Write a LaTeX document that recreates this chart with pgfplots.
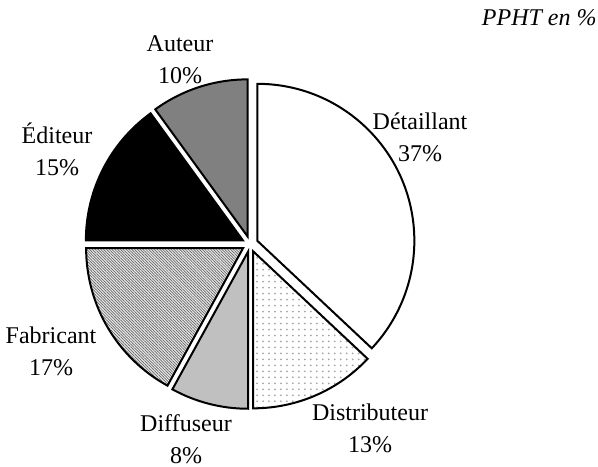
\documentclass[border=0pt]{standalone}
\usepackage{pgfplots}
\pgfplotsset{compat=1.18}
\usepackage{pgfplotstable}
\usepackage{fontspec}
\setmainfont{Liberation Serif}
\usetikzlibrary{patterns,patterns.meta}
\definecolor{auteur}{HTML}{808080}
\definecolor{diffuseur}{HTML}{C0C0C0}
% start (cumulated %) and share (%) of each slice
\newcommand\pieslice[3]{%
  \pgfmathsetmacro\sa{90-3.6*#1}%
  \pgfmathsetmacro\ea{90-3.6*(#1+#2)}%
  \pgfmathsetmacro\ma{(\sa+\ea)/2}%
  \edef\tmp{\noexpand\draw[line width=1bp,\unexpanded{#3}] (axis cs:250,223) ++(\ma:4bp) -- ++(\sa:78.5bp) arc[start angle=\sa, end angle=\ea, radius=78.5bp] -- cycle;}%
  \tmp}
\begin{document}
\begin{tikzpicture}
\begin{axis}[
  width=299bp, height=233.5bp, scale only axis,
  xmin=0, xmax=598, ymin=0, ymax=467,
  hide axis, clip=false,
]
\addplot[draw=none] coordinates {(0,0) (598,467)};
\pieslice{0}{37}{fill=white}
\pieslice{37}{13}{pattern=dots, pattern color=gray!70}
\pieslice{50}{8}{fill=diffuseur}
\pieslice{58}{17}{preaction={fill=gray!15}, pattern={Lines[angle=-45,distance=1pt,line width=0.35pt]}, pattern color=black!60}
\pieslice{75}{15}{fill=black}
\pieslice{90}{10}{fill=auteur}
\begin{scope}[every node/.style={align=center, font=\fontsize{12bp}{16bp}\selectfont, inner sep=0pt}]
\node at (axis cs:420,330) {Détaillant\\37\%};
\node at (axis cs:370,39) {Distributeur\\13\%};
\node at (axis cs:186,28) {Diffuseur\\8\%};
\node at (axis cs:51,116) {Fabricant\\17\%};
\node at (axis cs:57,318) {Éditeur\\15\%};
\node at (axis cs:180,407) {Auteur\\10\%};
\node[anchor=east, font=\fontsize{12bp}{14bp}\selectfont\itshape] at (axis cs:597,449) {PPHT en \%};
\end{scope}
\end{axis}
\pgfresetboundingbox
\useasboundingbox (current axis.south west) rectangle (current axis.north east);
\end{tikzpicture}
\end{document}
